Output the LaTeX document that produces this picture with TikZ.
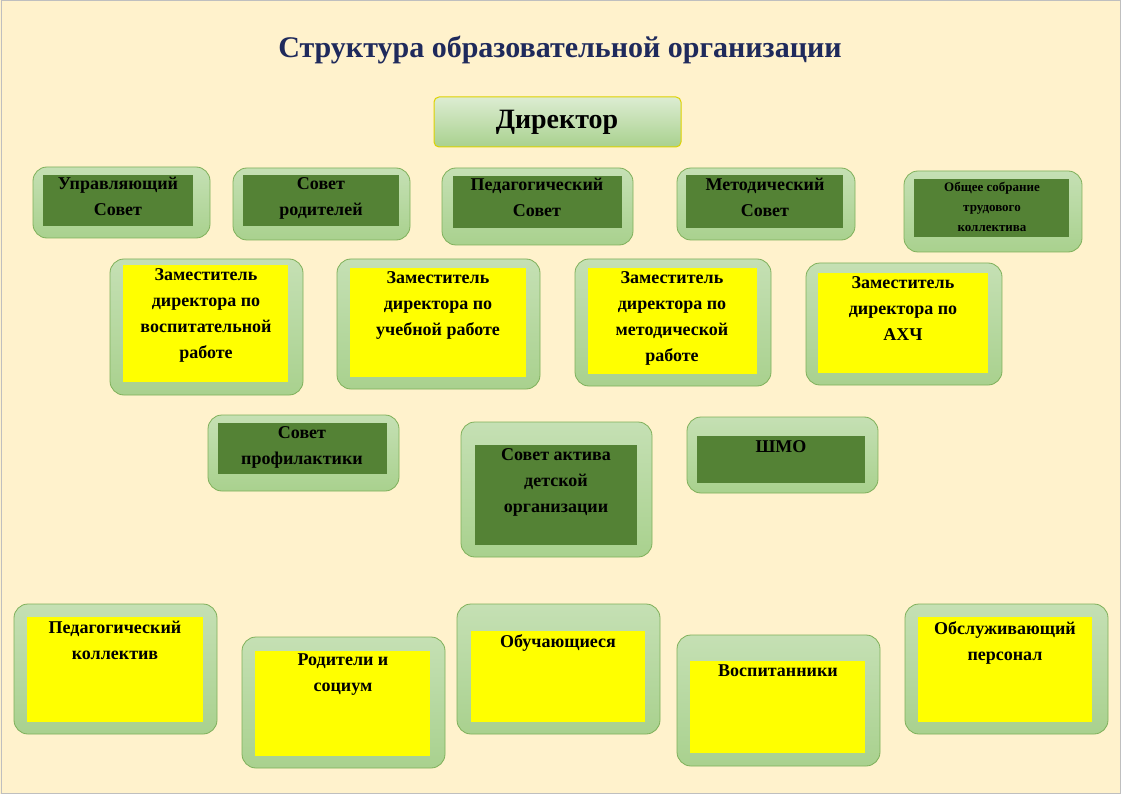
\documentclass[tikz,border=0pt]{standalone}
\usepackage{fontspec}
\setmainfont{Liberation Serif}
\definecolor{bg}{HTML}{FFF2CC}
\definecolor{outerc}{HTML}{A9D18E}
\definecolor{outerl}{HTML}{C5E0B4}
\definecolor{edgec}{HTML}{7FB05A}
\definecolor{darkg}{HTML}{548235}
\definecolor{yel}{HTML}{FFFF00}
\definecolor{navy}{HTML}{1F2A5C}
\tikzset{
 outerbox/.style={draw=edgec,line width=0.8pt,rounded corners=14pt,top color=outerl,bottom color=outerc},
 lbl/.style={anchor=north,align=center,font=\bfseries\fontsize{18}{26}\selectfont,text=black,inner sep=0pt}
}
\newcommand{\bx}[9]{%
 \draw[outerbox] (#1) rectangle (#2);
 \fill[#5] (#3) rectangle (#4);
 \node[lbl] (#9) at (#6) {#7#8};}
\begin{document}
\begin{tikzpicture}[x=1pt,y=-1pt]
\useasboundingbox (0,0) rectangle (1121,794);
\fill[bg] (0,0) rectangle (1121,794);
\draw[gray!50,line width=1pt] (1,1) rectangle (1120,793);
\node[font=\bfseries\fontsize{30}{36}\selectfont,text=navy] (title) at (560,50) {Структура образовательной организации};
\draw[draw=yellow!70!olive,line width=1pt,rounded corners=5pt,top color=outerl!60!white,bottom color=outerc] (434,97) rectangle (681,147);
\node[font=\bfseries\fontsize{28}{32}\selectfont] (dir) at (557,122) {Директор};
% row 1
\bx{33,167}{210,238}{43,175}{193,226}{darkg}{118,177}{}{Управляющий\\Совет}{a1}
\bx{233,168}{410,240}{243,175}{399,226}{darkg}{321,177}{}{Совет\\родителей}{a2}
\bx{442,168}{633,245}{453,176}{622,228}{darkg}{537,178}{}{Педагогический\\Совет}{a3}
\bx{677,168}{855,240}{686,175}{843,228}{darkg}{765,178}{}{Методический\\Совет}{a4}
\draw[outerbox] (904,171) rectangle (1082,252);
\fill[darkg] (914,179) rectangle (1069,237);
\node[lbl,font=\bfseries\fontsize{13}{20}\selectfont] (a5) at (992,182) {Общее собрание\\трудового\\коллектива};
% row 2
\bx{110,259}{303,395}{123,265}{288,382}{yel}{206,268}{}{Заместитель\\директора по\\воспитательной\\работе}{b1}
\bx{337,259}{540,389}{350,268}{526,377}{yel}{438,271}{}{Заместитель\\директора по\\учебной работе}{b2}
\bx{575,259}{771,386}{588,268}{757,374}{yel}{672,271}{}{Заместитель\\директора по\\методической\\работе}{b3}
\bx{806,263}{1002,385}{818,273}{988,373}{yel}{903,276}{}{Заместитель\\директора по\\АХЧ}{b4}
% row 3
\bx{208,415}{399,491}{218,423}{387,474}{darkg}{302,426}{}{Совет\\профилактики}{c1}
\bx{461,422}{652,557}{475,445}{637,545}{darkg}{556,448}{}{Совет актива\\детской\\организации}{c2}
\bx{687,417}{878,493}{697,436}{865,483}{darkg}{781,440}{}{ШМО}{c3}
% row 4
\bx{14,604}{217,734}{27,617}{203,722}{yel}{115,621}{}{Педагогический\\коллектив}{d1}
\bx{242,637}{445,768}{255,651}{430,756}{yel}{343,654}{}{Родители и\\социум}{d2}
\bx{457,604}{660,734}{471,631}{645,722}{yel}{558,634}{}{Обучающиеся}{d3}
\bx{677,635}{880,766}{690,661}{865,753}{yel}{778,665}{}{Воспитанники}{d4}
\bx{905,604}{1108,734}{918,617}{1092,722}{yel}{1005,621}{}{Обслуживающий\\персонал}{d5}
\end{tikzpicture}
\end{document}
